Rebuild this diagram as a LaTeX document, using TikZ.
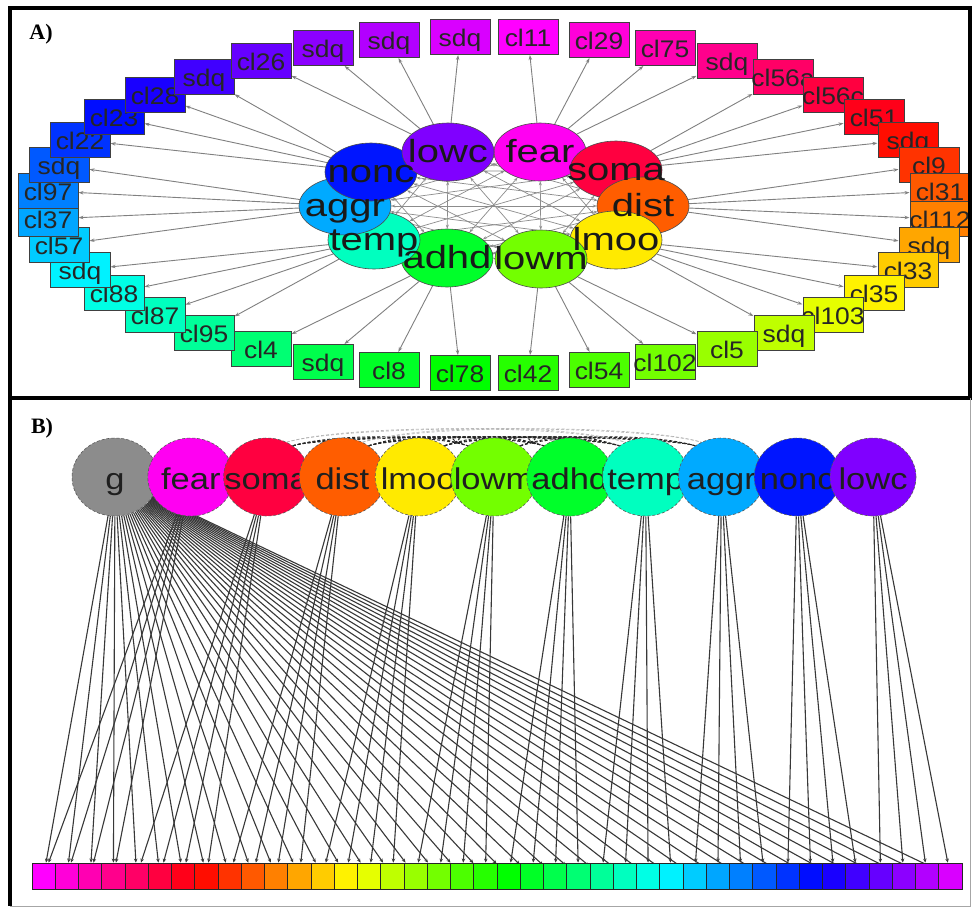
\documentclass[tikz,border=0pt]{standalone}
\usepackage{fontspec}
\setmainfont{Liberation Sans}
\newfontfamily\lblfont{Liberation Serif}
\usetikzlibrary{shapes.geometric,arrows.meta}
\pgfdeclarelayer{bg}
\pgfsetlayers{bg,main}
\newcommand{\mkhue}[1]{%
  \pgfmathsetmacro\hkr{mod(5+#1/60,6)}%
  \pgfmathsetmacro\hkg{mod(3+#1/60,6)}%
  \pgfmathsetmacro\hkb{mod(1+#1/60,6)}%
  \pgfmathsetmacro\hvr{1-max(0,min(\hkr,4-\hkr,1))}%
  \pgfmathsetmacro\hvg{1-max(0,min(\hkg,4-\hkg,1))}%
  \pgfmathsetmacro\hvb{1-max(0,min(\hkb,4-\hkb,1))}%
  \definecolor{tmpc}{rgb}{\hvr,\hvg,\hvb}}
\newcommand{\wideA}[1]{\scalebox{1.25}[1]{#1}}
\newcommand{\wideI}[1]{\scalebox{1.1}[1]{#1}}
\newcommand{\wideB}[1]{\scalebox{1.15}[1]{#1}}
\begin{document}
\begin{tikzpicture}[x=1pt,y=-1pt,
  fac/.style={ellipse, draw=black!70, line width=0.6pt, minimum width=92pt, minimum height=58pt, inner sep=0pt},
  faclbl/.style={font=\fontsize{32}{32}\selectfont, text=black!90, inner sep=0pt, anchor=base},
  box/.style={rectangle, draw=black!75, line width=1pt, minimum width=60pt, minimum height=35pt, inner sep=0pt},
  boxlbl/.style={font=\fontsize{24}{24}\selectfont, text=black!85, inner sep=0pt, anchor=base},
  conA/.style={draw=black!50, line width=0.9pt, -{Stealth[length=5pt,width=3.5pt]}},
  corA/.style={draw=black!45, line width=0.7pt, {Stealth[length=4pt,width=3pt]}-{Stealth[length=4pt,width=3pt]}},
  circB/.style={ellipse, draw=black!65, densely dashed, line width=0.6pt, minimum width=86pt, minimum height=78pt, inner sep=0pt},
  circlbl/.style={font=\fontsize{30}{30}\selectfont, text=black!88, inner sep=0pt, anchor=base},
  sq/.style={rectangle, draw=black!85, line width=0.8pt, minimum width=23.25pt, minimum height=26pt, inner sep=0pt},
  conB/.style={draw=black!78, line width=1.1pt, -{Stealth[length=4pt,width=3.5pt]}},
  corB/.style={draw=black!85, line width=0.9pt, dash pattern=on 3pt off 2pt},
  corBf/.style={draw=black!30, line width=0.6pt, dash pattern=on 3pt off 2pt},
  panlbl/.style={font=\lblfont\bfseries\fontsize{22}{22}\selectfont, inner sep=0pt}
]
\useasboundingbox (0,0) rectangle (972,908);
\begin{pgfonlayer}{bg}
\fill[white] (0,0) rectangle (972,908);
\end{pgfonlayer}

% ---------------- Panel A ----------------
\node[panlbl] (labA) at (41,34) {A)};

% factor ellipses
\foreach \k/\x/\y/\h in {0/540/152/303, 1/616/170/345, 2/643/206/22, 3/616/240/55, 4/541/259/93,
                         5/447/258/130, 6/374/240/165, 7/345/206/200, 8/371/172/235, 9/448/152/270}{
  \mkhue{\h}
  \node[fac, fill=tmpc] (fA\k) at (\x,\y) {};
}
\foreach \k/\x/\y/\lab in {0/540/152/fear, 1/616/170/soma, 2/643/206/dist, 3/616/240/lmoo, 4/541/259/lowm,
                         5/447/258/adhd, 6/374/240/temp, 7/345/206/aggr, 8/371/172/nonc, 9/448/152/lowc}{
  \node[faclbl] (fAl\k) at (\x,\y+10) {\wideA{\lab}};
}

% item boxes
\foreach \i/\x/\y/\lab in {0/528/37/cl11, 1/599/40/cl29, 2/665/48/cl75, 3/727/61/sdq, 4/783/77/cl56a,
  5/833/95/cl56c, 6/874/117/cl51, 7/908/140/sdq, 8/929/165/cl9, 9/940/191/cl31, 10/940/219/cl112,
  11/929/245/sdq, 12/908/270/cl33, 13/874/293/cl35, 14/833/315/cl103, 15/784/333/sdq, 16/727/349/cl5,
  17/665/362/cl102, 18/599/370/cl54, 19/528/373/cl42, 20/460/373/cl78, 21/389/370/cl8, 22/323/362/sdq,
  23/261/349/cl4, 24/204/333/cl95, 25/155/315/cl87, 26/114/293/cl88, 27/80/270/sdq, 28/59/245/cl57,
  29/48/219/cl37, 30/48/191/cl97, 31/59/165/sdq, 32/80/140/cl22, 33/114/117/cl23, 34/155/95/cl28,
  35/204/77/sdq, 36/261/61/cl26, 37/323/48/sdq, 38/389/40/sdq, 39/460/37/sdq}{
  \pgfmathtruncatemacro\hh{mod(300+9*\i,360)}
  \mkhue{\hh}
  \node[box, fill=tmpc] (a\i) at (\x,\y) {};
  \node[boxlbl] (al\i) at (\x,\y+9) {\wideI{\lab}};
}

\begin{pgfonlayer}{bg}
  \foreach \i in {0,...,39}{
    \pgfmathtruncatemacro\k{floor(\i/4)}
    \draw[conA] (fA\k) -- (a\i);
  }
  \foreach \k in {0,...,8}{
    \pgfmathtruncatemacro\kk{\k+1}
    \foreach \j in {\kk,...,9}{
      \draw[corA] (fA\k) -- (fA\j);
    }
  }
\end{pgfonlayer}

% ---------------- Panel B ----------------
\node[panlbl] (labB) at (42,428) {B)};

\node[circB, fill=black!45] (g) at (115,477) {};
\node[circlbl] (gl) at (115,489) {\wideB{g}};
\foreach \k/\h/\lab in {0/303/fear, 1/345/soma, 2/22/dist, 3/55/lmoo, 4/93/lowm,
                        5/130/adhd, 6/165/temp, 7/200/aggr, 8/235/nonc, 9/270/lowc}{
  \mkhue{\h}
  \pgfmathsetmacro\xx{190.8+75.8*\k}
  \node[circB, fill=tmpc] (fB\k) at (\xx,477) {};
  \node[circlbl] (fBl\k) at (\xx,489) {\wideB{\lab}};
}

\foreach \i in {0,...,39}{
  \pgfmathtruncatemacro\hh{mod(300+9*\i,360)}
  \mkhue{\hh}
  \pgfmathsetmacro\xx{32+23.25*(\i+0.5)}
  \node[sq, fill=tmpc] (s\i) at (\xx,876) {};
}

\begin{pgfonlayer}{bg}
  \foreach \i in {0,...,39}{
    \pgfmathtruncatemacro\k{floor(\i/4)}
    \draw[conB] (g) -- (s\i);
    \draw[conB] (fB\k) -- (s\i);
  }
  \foreach \a/\b in {1/5,1/6,1/7,2/5,2/6,2/7,3/5,3/6,3/7,4/6,4/7,2/4,3/4,1/4,4/5}{
    \draw[corB] (fB\a.50) .. controls +(40,-12) and +(-40,-12) .. (fB\b.130);
  }
  \foreach \a/\b in {1/6,2/7,1/7,2/6}{
    \draw[corBf] (fB\a.60) .. controls +(60,-18) and +(-60,-18) .. (fB\b.120);
  }
\end{pgfonlayer}

% ---------------- frames ----------------
\draw[line width=4pt, black] (10,8) rectangle (970,398);
\draw[line width=4pt, black] (10,398) -- (10,906);
\draw[line width=0.8pt, black!35] (10,906) -- (970,906) -- (970,398);
\end{tikzpicture}
\end{document}
